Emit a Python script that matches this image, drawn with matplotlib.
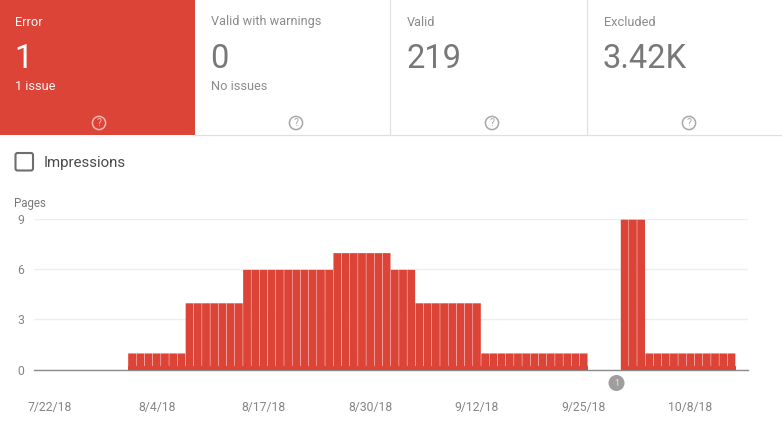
import matplotlib
matplotlib.use("Agg")
import matplotlib.pyplot as plt
from matplotlib.patches import Rectangle, Circle, FancyBboxPatch

plt.rcParams["font.family"] = ["Roboto", "DejaVu Sans"]

# ---------- Data ----------

panel_titles = ["Error", "Valid with warnings", "Valid", "Excluded"]
panel_values = ["1", "0", "219", "3.42K"]
panel_notes = ["1 issue", "No issues", "", ""]

# one value per day, starting 7/22/18
pages = [
    0, 0, 0, 0, 0, 0, 0, 0, 0, 0,
    1, 1, 1, 1, 1, 1, 1,
    4, 4, 4, 4, 4, 4, 4,
    6, 6, 6, 6, 6, 6, 6, 6, 6, 6, 6,
    7, 7, 7, 7, 7, 7, 7,
    6, 6, 6,
    4, 4, 4, 4, 4, 4, 4, 4,
    1, 1, 1, 1, 1, 1, 1, 1, 1, 1, 1, 1, 1,
    0, 0, 0, 0,
    9, 9, 9,
    1, 1, 1, 1, 1, 1, 1, 1, 1, 1, 1,
]
date_ticks = [0, 13, 26, 39, 52, 65, 78]
date_labels = ["7/22/18", "8/4/18", "8/17/18", "8/30/18", "9/12/18", "9/25/18", "10/8/18"]
y_ticks = [0, 3, 6, 9]

# ---------- Layout ----------

W, H = 782, 436
RED = "#DD4438"
GREY = "#787878"
SOFT = "#858585"
LIGHT = "#E0E0E0"

fig = plt.figure(figsize=(W / 100, H / 100), dpi=100)

# page layer in pixel coordinates, y pointing down
page = fig.add_axes([0, 0, 1, 1])
page.set_xlim(0, W)
page.set_ylim(H, 0)
page.axis("off")

page.add_patch(Rectangle((0, 0), 195, 135.5, color=RED, lw=0))
page.plot([195, W], [135.5, 135.5], color=LIGHT, lw=0.9)
for x in [390, 587]:
    page.plot([x, x], [0, 135], color=LIGHT, lw=0.9)

text_x = [15, 211, 407, 604]
icon_x = [99, 296, 492, 689]
for i in range(4):
    c = "white" if i == 0 else SOFT
    page.text(text_x[i], 22, panel_titles[i], color=c, fontsize=9.2, va="center", alpha=0.95)
    big_c = "white" if i == 0 else GREY
    page.text(text_x[i] - 1, 59.5, panel_values[i], color=big_c, fontsize=23.5, va="center")
    if panel_notes[i]:
        page.text(text_x[i], 86, panel_notes[i], color=c, fontsize=9.2, va="center", alpha=0.95)
    icon_c = "#F2B5B0" if i == 0 else "#A8A8A8"
    page.add_patch(Circle((icon_x[i], 123), 6.6, fill=False, ec=icon_c, lw=1.1))
    page.text(icon_x[i], 123.3, "?", color=icon_c, fontsize=7.5, ha="center", va="center")

# checkbox
page.add_patch(FancyBboxPatch((15.5, 153), 17.5, 17.5, boxstyle="round,pad=0,rounding_size=2",
                              fill=False, ec="#6E6E6E", lw=1.5))
page.text(44, 162.5, "Impressions", color="#4A4A4A", fontsize=10.8, va="center")
page.text(14, 203, "Pages", color=GREY, fontsize=8.3, va="center")

# annotation marker under the axis
page.add_patch(Circle((616.5, 383), 8, color="#9E9E9E", lw=0))
page.text(616.5, 383.3, "1", color="#E8E8E8", fontsize=6.5, ha="center", va="center")

# ---------- Chart ----------

left, right, top, bottom = 34, 748, 219, 369.5
ax = fig.add_axes([left / W, 1 - bottom / H, (right - left) / W, (bottom - top) / H])
ax.patch.set_alpha(0)
day_px = 8.21
ax.set_xlim((left - 50) / day_px, (right - 50) / day_px)
ax.set_ylim(0, 9)
for s in ax.spines.values():
    s.set_visible(False)

days = list(range(len(pages)))
ax.set_yticks(y_ticks)
ax.set_xticks(date_ticks)
ax.set_xticklabels(date_labels)
ax.tick_params(length=0, labelcolor=SOFT, labelsize=8.8)
ax.tick_params(axis="y", pad=7)
ax.tick_params(axis="x", pad=23)
ax.grid(axis="y", color="#EEEEEE", lw=1)
ax.set_axisbelow(True)

ax.axhline(0, color="#8A8A8A", lw=1, clip_on=False, zorder=2)
bars = ax.bar(days, [v - 0.04 if v > 0 else 0 for v in pages], width=0.95, color=RED, lw=0, zorder=3)
for b in bars:
    b.set_snap(False)
# solid strip along the bottom, the gaps stop short of the baseline
base = [0.2 if v > 0 else 0 for v in pages]
ax.bar(days, base, width=1.0, color=RED, lw=0, zorder=3)

plt.savefig("out.png", dpi=100)
